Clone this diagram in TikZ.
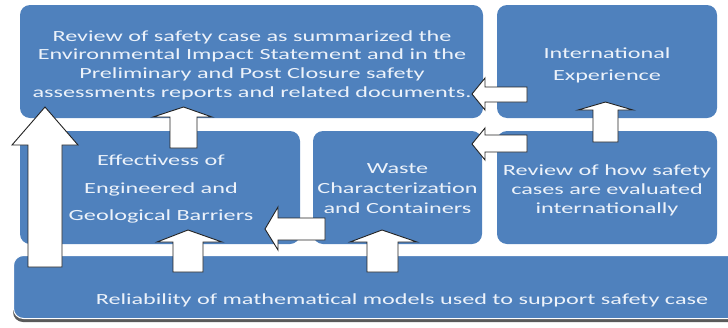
\documentclass[tikz,border=0pt]{standalone}
\usepackage{fontspec}
\setmainfont[FakeStretch=1.56]{Carlito}
\definecolor{boxblue}{RGB}{79,129,189}
\definecolor{txt}{RGB}{236,242,250}
\definecolor{arrline}{RGB}{35,35,35}
\definecolor{shadowgray}{RGB}{90,90,90}
\begin{document}
\begin{tikzpicture}[x=1pt,y=-1pt,
  box/.style={fill=boxblue, draw=none, rounded corners=10pt, inner sep=0pt},
  boxtext/.style={text=txt, align=center, inner sep=0pt,
    font=\fontsize{15.5}{18.6}\selectfont},
  blockarrow/.style={fill=white, draw=arrline, line width=0.9pt, line join=miter}]
\useasboundingbox (0,0) rectangle (728,327);
\clip (0,0) rectangle (728,327);
% boxes
\node[box, minimum width=463pt, minimum height=113pt] (A) at (251.5,61.5) {};
\node[boxtext] (At) at (252,65)
  {Review of safety case as summarized the\\Environmental Impact Statement and in the\\Preliminary and Post Closure safety\\assessments reports and related documents.};
\node[box, minimum width=220pt, minimum height=113pt] (B) at (607,61.5) {};
\node[boxtext, font=\fontsize{15.5}{22}\selectfont] (Bt) at (607,65)
  {International\\Experience};
\node[box, minimum width=280pt, minimum height=113pt] (C) at (160,187.5) {};
\node[boxtext] (Ct) at (161,189)
  {Effectivess of\\[9pt]Engineered and\\[9pt]Geological Barriers};
\node[box, minimum width=169pt, minimum height=113pt] (D) at (397.5,187.5) {};
\node[boxtext, font=\fontsize{15.5}{20}\selectfont] (Dt) at (397.5,188.5)
  {Waste\\Characterization\\and Containers};
\node[box, minimum width=220pt, minimum height=113pt] (E) at (607,187.5) {};
\node[boxtext, font=\fontsize{15.5}{19}\selectfont] (Et) at (607,190.5)
  {Review of how safety\\cases are evaluated\\internationally};
% bottom box with shadow
\fill[shadowgray, rounded corners=10pt] (13,259) rectangle (742,322);
\node[box, draw=white, line width=1pt, minimum width=729pt, minimum height=63pt, anchor=north west] (F) at (13,255) {};
\node[boxtext] (Ft) at (402,300)
  {Reliability of mathematical models used to support safety case};
% up arrows
\draw[blockarrow] (28,267) -- (28,145) -- (12,145) -- (45,107) -- (78,145) -- (62,145) -- (62,267) -- cycle;
\draw[blockarrow] (170,148) -- (170,117) -- (153,117) -- (183.5,107) -- (212,117) -- (197,117) -- (197,148) -- cycle;
\draw[blockarrow] (593,142) -- (593,110) -- (578,110) -- (605.5,102) -- (633,110) -- (618,110) -- (618,142) -- cycle;
\draw[blockarrow] (173,272) -- (173,242) -- (157,242) -- (188,230) -- (222,242) -- (203,242) -- (203,272) -- cycle;
\draw[blockarrow] (367,272) -- (367,242) -- (350,242) -- (382,230) -- (417,242) -- (398,242) -- (398,272) -- cycle;
% left arrows
\draw[blockarrow] (527,87) -- (485,87) -- (485,78) -- (472,94) -- (485,110) -- (485,102) -- (527,102) -- cycle;
\draw[blockarrow] (527,135) -- (485,135) -- (485,128) -- (472,144) -- (485,160) -- (485,152) -- (527,152) -- cycle;
\draw[blockarrow] (325,218) -- (278,218) -- (278,207) -- (265,229) -- (278,250) -- (278,240) -- (325,240) -- cycle;
\end{tikzpicture}
\end{document}
